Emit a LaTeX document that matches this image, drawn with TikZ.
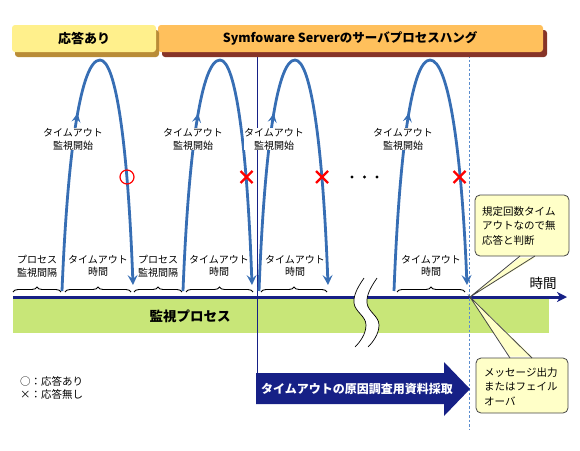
\documentclass[tikz,border=0pt]{standalone}
\usepackage{fontspec}
\setmainfont{Noto Sans CJK JP}
\usetikzlibrary{arrows.meta,decorations.markings,decorations.pathreplacing}
\definecolor{arcblue}{RGB}{55,110,180}
\definecolor{navy}{RGB}{22,32,134}
\definecolor{bandgreen}{RGB}{200,230,120}
\definecolor{yface}{RGB}{255,240,140}
\definecolor{yshadow}{RGB}{185,140,55}
\definecolor{oface}{RGB}{255,192,92}
\definecolor{oshadow}{RGB}{135,52,40}
\definecolor{callfill}{RGB}{255,255,200}
\definecolor{calldraw}{RGB}{70,70,70}
\definecolor{dashblue}{RGB}{90,140,205}
\begin{document}
\begin{tikzpicture}[x=1pt,y=-1pt,
  arcline/.style={arcblue, line width=2.8pt,
    -{Stealth[length=10pt,width=10pt,inset=4pt]},
    postaction={decorate},
    decoration={markings, mark=at position 0.38 with {\arrow{Stealth[length=9pt,width=9pt,inset=3.5pt]}}}},
  xmark/.style={red, line width=2.2pt},
  toplabel/.style={font=\fontsize{10}{13}\selectfont, align=center, fill=white, inner sep=0.5pt},
  botlabel/.style={font=\fontsize{10}{12.5}\selectfont, align=center, inner sep=0pt},
  bracestyle/.style={decorate, decoration={brace, amplitude=5pt}, line width=0.9pt},
  callbox/.style={fill=callfill, draw=calldraw, line width=0.8pt, rounded corners=5pt},
  calltext/.style={font=\fontsize{10.5}{14.5}\selectfont, align=left, inner sep=0pt, anchor=west},
  banner/.style={font=\bfseries\fontsize{12.5}{15}\selectfont, inner sep=0pt}
]
\useasboundingbox (0,0) rectangle (580,450);

% green band
\fill[bandgreen] (13,299) rectangle (549,333);
\node[font=\bfseries\fontsize{13.5}{16}\selectfont, inner sep=0pt] (band) at (190,316) {監視プロセス};

% timeline
\draw[navy, line width=3pt, -{Stealth[length=10pt,width=10pt,inset=3pt]}] (13,297) -- (567,297);
\node[font=\fontsize{13.5}{16}\selectfont, inner sep=0pt] (jikan) at (543,283) {時間};

% break mark
\fill[white] (364,278) .. controls (360,284) and (353,294) .. (354,303)
  .. controls (355,312) and (366,316) .. (366,325)
  .. controls (366,334) and (360,342) .. (355,347)
  -- (368,347) .. controls (373,342) and (379,334) .. (379,325)
  .. controls (379,316) and (368,312) .. (367,303)
  .. controls (366,294) and (373,284) .. (377,278) -- cycle;
\draw[line width=0.7pt] (364,278) .. controls (360,284) and (353,294) .. (354,303)
  .. controls (355,312) and (366,316) .. (366,325)
  .. controls (366,334) and (360,342) .. (355,347);
\draw[line width=0.7pt] (377,278) .. controls (373,284) and (366,294) .. (367,303)
  .. controls (368,312) and (379,316) .. (379,325)
  .. controls (379,334) and (373,342) .. (368,347);

% vertical lines
\draw[navy, line width=1pt] (257,53) -- (257,374);
\draw[dashblue, line width=1pt, dash pattern=on 2.5pt off 2pt] (469,55) -- (469,430);

% arcs
\draw[arcline] (62,291) .. controls (67.7,150) and (81,60) .. (100,60)
  .. controls (116.5,60) and (128,150) .. (133,285);
\draw[arcline] (183,291) .. controls (188.5,150) and (201.5,60) .. (220,60)
  .. controls (236,60) and (247.2,150) .. (252,285);
\draw[arcline] (259,291) .. controls (264.4,150) and (277,60) .. (295,60)
  .. controls (311.5,60) and (323,150) .. (328,285);
\draw[arcline] (394,291) .. controls (399.4,150) and (412,60) .. (430,60)
  .. controls (448.5,60) and (461.5,150) .. (467,285);

% marks
\draw[red, line width=1.2pt] (127,177) circle[radius=7pt];
\draw[xmark] (240.5,171) -- (252.5,183) (240.5,183) -- (252.5,171);
\draw[xmark] (316,171) -- (328,183) (316,183) -- (328,171);
\draw[xmark] (453.5,171) -- (465.5,183) (453.5,183) -- (465.5,171);
\fill (352,177) circle[radius=1.7pt] (364.5,177) circle[radius=1.7pt] (377,177) circle[radius=1.7pt];

% top labels
\node[toplabel] (s1) at (73,139) {タイムアウト\\監視開始};
\node[toplabel] (s2) at (193,139) {タイムアウト\\監視開始};
\node[toplabel] (s3) at (274,139) {タイムアウト\\監視開始};
\node[toplabel] (s4) at (403,139) {タイムアウト\\監視開始};

% bottom labels
\node[botlabel] (p1) at (37,266) {プロセス\\監視間隔};
\node[botlabel] (t1) at (98,266) {タイムアウト\\時間};
\node[botlabel] (p2) at (158,266) {プロセス\\監視間隔};
\node[botlabel] (t2) at (219,266) {タイムアウト\\時間};
\node[botlabel] (t3) at (295,266) {タイムアウト\\時間};
\node[botlabel] (t4) at (431,266) {タイムアウト\\時間};

% braces
\draw[bracestyle] (13,292) -- (61,292);
\draw[bracestyle] (65,292) -- (131,292);
\draw[bracestyle] (134,292) -- (182,292);
\draw[bracestyle] (186,292) -- (253,292);
\draw[bracestyle] (261,292) -- (327,292);
\draw[bracestyle] (397,292) -- (465,292);

% callouts
\coordinate (tip) at (470,297);
\draw[callbox] (475,195) rectangle (569,256);
\fill[callfill] (520,257.5) -- (tip) -- (535,257.5) -- cycle;
\draw[calldraw, line width=0.8pt] (520,256) -- (tip) -- (535,256);
\node[calltext] (c1) at (482,226) {規定回数タイム\\アウトなので無\\応答と判断};

\draw[callbox] (476,358) rectangle (568,413);
\fill[callfill] (510,356.5) -- (tip) -- (532,356.5) -- cycle;
\draw[calldraw, line width=0.8pt] (510,358) -- (tip) -- (532,358);
\node[calltext] (c2) at (484,386.5) {メッセージ出力\\またはフェイル\\オーバ};

% big arrow
\fill[navy] (256,373) -- (444,373) -- (444,362) -- (470,389) -- (444,416) -- (444,404) -- (256,404) -- cycle;
\node[font=\bfseries\fontsize{12}{14}\selectfont, text=white, inner sep=0pt] (arrowtext) at (357,389) {タイムアウトの原因調査用資料採取};

% legend
\node[font=\fontsize{10.5}{13}\selectfont, align=left, anchor=west, inner sep=0pt] (legend) at (20,387.5) {○：応答あり\\×：応答無し};

% banners
\fill[oshadow, rounded corners=3pt] (162,30) rectangle (547,57);
\fill[oface, rounded corners=3pt] (158,25) rectangle (543,52);
\fill[yshadow, rounded corners=3pt] (15,30) rectangle (159,57);
\fill[yface, rounded corners=3pt] (12,25) rectangle (156,52);
\node[banner, font=\bfseries\fontsize{13}{15}\selectfont] (b1) at (84,38.5) {応答あり};
\node[banner] (b2) at (350,38.5) {Symfoware Serverのサーバプロセスハング};
\end{tikzpicture}
\end{document}
